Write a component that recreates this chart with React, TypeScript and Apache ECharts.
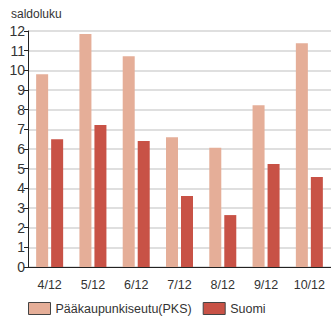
import React, { useEffect, useRef } from "react";
import * as echarts from "echarts";

const categories = ["4/12", "5/12", "6/12", "7/12", "8/12", "9/12", "10/12"];
const pksValues = [9.8, 11.85, 10.72, 6.6, 6.06, 8.23, 11.38];
const suomiValues = [6.5, 7.22, 6.41, 3.61, 2.64, 5.24, 4.58];
const seriesNames = ["Pääkaupunkiseutu(PKS)", "Suomi"];
const yAxisTitle = "saldoluku";

export default function App() {
  const ref = useRef<HTMLDivElement>(null);
  useEffect(() => {
    if (!ref.current) return;
    const chart = echarts.init(ref.current, null, { renderer: "svg" });
    const font = "'Liberation Sans', Arial, sans-serif";
    chart.setOption({
      animation: false,
      textStyle: { fontFamily: font },
      title: {
        text: yAxisTitle,
        left: 6,
        top: 3,
        textStyle: { fontSize: 12, fontWeight: "normal", color: "#333", fontFamily: font },
      },
      legend: {
        left: 23,
        top: 297,
        itemWidth: 22,
        itemHeight: 12,
        itemGap: 11,
        icon: "rect",
        textStyle: { fontSize: 12.5, color: "#333", fontFamily: font },
        itemStyle: { borderColor: "#444", borderWidth: 1 },
      },
      grid: { left: 28, right: 0, top: 31, bottom: 50, containLabel: false },
      xAxis: {
        type: "category",
        data: categories,
        axisLine: { lineStyle: { color: "#222", width: 1 } },
        axisTick: { alignWithLabel: true, length: 5, lineStyle: { color: "#222" } },
        axisLabel: { fontSize: 12.5, color: "#333", margin: 11, fontFamily: font },
      },
      yAxis: {
        type: "value",
        min: 0,
        max: 12,
        interval: 1,
        axisLine: { show: true, lineStyle: { color: "#222", width: 1 } },
        axisTick: { show: true, length: 4, lineStyle: { color: "#222" } },
        axisLabel: { fontSize: 14, color: "#333", margin: 3, fontFamily: font },
        splitLine: { lineStyle: { color: "#d4d4d4", width: 1.5 } },
      },
      series: [
        {
          name: seriesNames[0],
          type: "bar",
          data: pksValues,
          barWidth: 12,
          barGap: "25%",
          itemStyle: { color: "#e5ae98" },
        },
        {
          name: seriesNames[1],
          type: "bar",
          data: suomiValues,
          barWidth: 12,
          itemStyle: { color: "#c85246" },
        },
      ],
    });
    return () => chart.dispose();
  }, []);
  return <div ref={ref} style={{ width: 331, height: 317, position: "absolute", left: 0, top: 0 }} />;
}
